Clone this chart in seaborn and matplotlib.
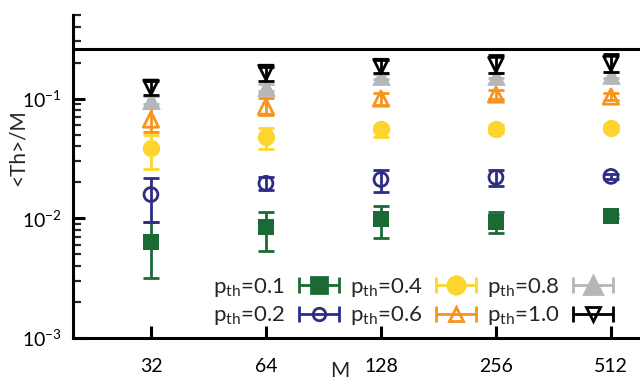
import numpy as np
import pandas as pd
import matplotlib
matplotlib.use("Agg")
import matplotlib.pyplot as plt
import seaborn as sns
from matplotlib.container import ErrorbarContainer
from matplotlib.legend_handler import HandlerErrorbar
from matplotlib.ticker import FixedLocator, FixedFormatter, LogLocator, NullFormatter, NullLocator

# ---- data ----
M = [32, 64, 128, 256, 512]
p_labels = ["0.1", "0.2", "0.4", "0.6", "0.8", "1.0"]

y_p01 = [0.0063, 0.0084, 0.0098, 0.0094, 0.0104]
lo_p01 = [0.0032, 0.0053, 0.0069, 0.0076, 0.0100]
hi_p01 = [0.0093, 0.0114, 0.0126, 0.0114, 0.0108]

y_p02 = [0.0158, 0.0196, 0.0211, 0.0220, 0.0224]
lo_p02 = [0.0094, 0.0174, 0.0165, 0.0185, 0.0212]
hi_p02 = [0.0216, 0.0220, 0.0251, 0.0251, 0.0236]

y_p04 = [0.039, 0.0482, 0.0552, 0.0562, 0.0573]
lo_p04 = [0.026, 0.0376, 0.0482, 0.0520, 0.0540]
hi_p04 = [0.050, 0.0573, 0.0596, 0.0600, 0.0600]

y_p06 = [0.0668, 0.0858, 0.100, 0.108, 0.104]
lo_p06 = [0.053, 0.0735, 0.089, 0.099, 0.097]
hi_p06 = [0.084, 0.102, 0.112, 0.118, 0.112]

y_p08 = [0.098, 0.124, 0.153, 0.155, 0.158]
lo_p08 = [0.090, 0.115, 0.145, 0.148, 0.150]
hi_p08 = [0.106, 0.133, 0.161, 0.163, 0.166]

y_p10 = [0.124, 0.165, 0.185, 0.192, 0.196]
lo_p10 = [0.108, 0.139, 0.164, 0.164, 0.168]
hi_p10 = [0.139, 0.185, 0.211, 0.230, 0.237]

ref_level = 0.26
x_ticks = [32, 64, 128, 256, 512]
x_ticklabels = ["32", "64", "128", "256", "512"]

# ---- style ----
sns.set_style("ticks")
plt.rcParams["font.family"] = ["Lato", "DejaVu Sans"]
plt.rcParams["mathtext.fontset"] = "custom"
plt.rcParams["mathtext.rm"] = "Lato"
plt.rcParams["mathtext.it"] = "Lato:italic"
plt.rcParams["mathtext.bf"] = "Lato:bold"

colors = ["#1b6a36", "#2e2c85", "#fdd52e", "#f7941e", "#b5b6b9", "#000000"]
markers = ["s", "o", "o", "^", "^", "v"]
filled = [True, False, True, False, True, False]
sizes = [12, 10, 12.5, 11, 13.5, 10.5]
series_y = [y_p01, y_p02, y_p04, y_p06, y_p08, y_p10]
series_lo = [lo_p01, lo_p02, lo_p04, lo_p06, lo_p08, lo_p10]
series_hi = [hi_p01, hi_p02, hi_p04, hi_p06, hi_p08, hi_p10]

fig = plt.figure(figsize=(6.4, 3.82), dpi=100)
ax = fig.add_axes([0.114, 0.115, 0.886, 0.846])

for i, (lab, c, mk, f, sz, ys, lo, hi) in enumerate(zip(p_labels, colors, markers, filled, sizes,
                                                        series_y, series_lo, series_hi)):
    ys = np.array(ys); lo = np.array(lo); hi = np.array(hi)
    z = 2 + i
    ax.errorbar(M, ys, yerr=[ys - lo, hi - ys], fmt="none", ecolor=c,
                elinewidth=2, capsize=5.5, capthick=2, zorder=z)
    df = pd.DataFrame({"M": M, "v": ys})
    if f:
        sns.scatterplot(data=df, x="M", y="v", ax=ax, marker=mk, s=sz**2,
                        facecolor=c, edgecolor=c, linewidth=0, zorder=z + 0.5)
    else:
        sns.scatterplot(data=df, x="M", y="v", ax=ax, marker=mk, s=sz**2,
                        facecolor="none", edgecolor=c, linewidth=2, zorder=z + 0.5)

ax.axhline(ref_level, color="black", lw=2.2, zorder=1)

# legend proxies
handles = []
for lab, c, mk, f, sz in zip(p_labels, colors, markers, filled, sizes):
    h = ax.errorbar([np.nan], [np.nan], xerr=[[1], [1]], fmt=mk, color=c,
                    mfc=c if f else "none", mec=c, ms=sz if f else sz - 1,
                    mew=2, elinewidth=2, capsize=5.5, capthick=2,
                    label=r"p$_{\mathrm{th}}$=" + lab)
    handles.append(h)

leg = ax.legend(handles=handles, ncol=3, markerfirst=False, frameon=False,
                fontsize=16, loc="lower right", bbox_to_anchor=(0.963, 0.143),
                bbox_transform=fig.transFigure, handlelength=2.1,
                handletextpad=0.45, columnspacing=0.35, labelspacing=0.25,
                borderaxespad=0, borderpad=0,
                handler_map={ErrorbarContainer: HandlerErrorbar(xerr_size=0.9)})

ax.set_xscale("log", base=2)
ax.set_yscale("log")
ax.set_xlim(20, 610)
ax.set_ylim(1e-3, 0.5)
ax.xaxis.set_major_locator(FixedLocator(x_ticks))
ax.xaxis.set_major_formatter(FixedFormatter(x_ticklabels))
ax.xaxis.set_minor_locator(NullLocator())
ax.yaxis.set_major_locator(LogLocator(base=10, numticks=10))
ax.yaxis.set_minor_locator(LogLocator(base=10, subs=np.arange(2, 10), numticks=20))
ax.yaxis.set_minor_formatter(NullFormatter())

for s in ["top", "right"]:
    ax.spines[s].set_visible(False)
for s in ["left", "bottom"]:
    ax.spines[s].set_linewidth(2.2)
    ax.spines[s].set_color("black")

ax.tick_params(axis="both", which="major", direction="in", length=8.5, width=2.2,
               labelsize=14, colors="black", pad=8)
ax.tick_params(axis="y", which="minor", direction="in", length=5.5, width=1.6)
ax.tick_params(axis="x", which="major", pad=14)

ax.set_xlabel("M", fontsize=15)
ax.set_ylabel("<Th>/M", fontsize=15)
ax.xaxis.set_label_coords(0.47, -0.07)
ax.yaxis.set_label_coords(-0.08, 0.59)
ax.grid(False)

fig.savefig("out.png", dpi=100)
